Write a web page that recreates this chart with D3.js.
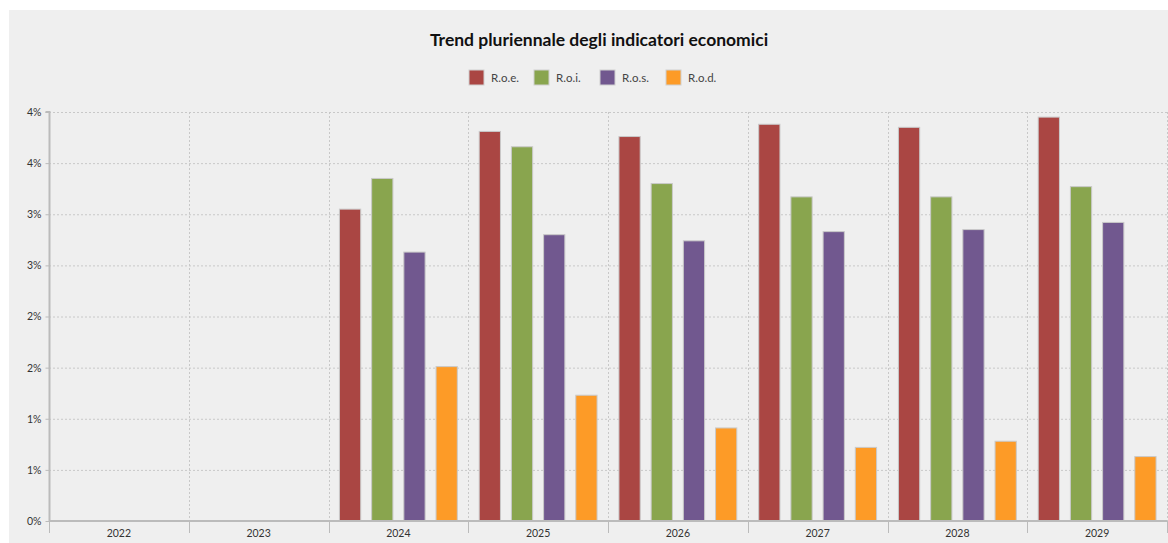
<!DOCTYPE html>
<html><head><meta charset="utf-8">
<script src="https://cdn.jsdelivr.net/npm/d3@7"></script>
<style>
html,body{margin:0;padding:0;background:#fff;}
svg{display:block;font-family:Lato,"Open Sans",sans-serif;}
</style></head>
<body>
<svg id="chart" width="1168" height="543"></svg>
<script>
const years = ["2022","2023","2024","2025","2026","2027","2028","2029"];
const seriesNames = ["R.o.e.","R.o.i.","R.o.s.","R.o.d."];
const roe = [null,null,3.05,3.81,3.76,3.88,3.85,3.95];
const roi = [null,null,3.35,3.66,3.30,3.17,3.17,3.27];
const ros = [null,null,2.63,2.80,2.74,2.83,2.85,2.92];
const rod = [null,null,1.51,1.23,0.91,0.72,0.78,0.63];
const yTicks = [0,0.5,1,1.5,2,2.5,3,3.5,4];
const colors = ["#aa4643","#89a54e","#71588f","#fd9b27"];
const seriesValues = [roe,roi,ros,rod];

const svg = d3.select("#chart");
svg.append("rect").attr("x",9).attr("y",10).attr("width",1159).attr("height",533).attr("fill","#efefef");

const m = {left:49,right:1167,top:112,bottom:521};
const x = d3.scaleBand().domain(years).range([m.left,m.right]).paddingInner(0).paddingOuter(0);
const xs = d3.scaleBand().domain(seriesNames).range([0,x.bandwidth()]).paddingInner(0.34).paddingOuter(0.34);
const y = d3.scaleLinear().domain([0,4]).range([m.bottom,m.top]);

// horizontal grid
svg.append("g").selectAll("line").data(yTicks.filter(d=>d>0)).join("line")
  .attr("x1",m.left).attr("x2",m.right).attr("y1",d=>y(d)+0.5).attr("y2",d=>y(d)+0.5)
  .attr("stroke","#c8c8c8").attr("stroke-dasharray","2,2");
// vertical grid
svg.append("g").selectAll("line").data(years.slice(1).concat(["end"])).join("line")
  .attr("x1",(d,i)=>Math.round(m.left + (i+1)*x.step())+0.5)
  .attr("x2",(d,i)=>Math.round(m.left + (i+1)*x.step())+0.5)
  .attr("y1",m.top).attr("y2",m.bottom)
  .attr("stroke","#c8c8c8").attr("stroke-dasharray","2,2");

// bars
seriesNames.forEach((s,si)=>{
  svg.append("g").selectAll("rect").data(years.map((yr,i)=>({yr,v:seriesValues[si][i]})).filter(d=>d.v!=null)).join("rect")
    .attr("x",d=>x(d.yr)+xs(s))
    .attr("width",xs.bandwidth())
    .attr("y",d=>y(d.v))
    .attr("height",d=>y(0)-y(d.v))
    .attr("fill",colors[si]).attr("stroke","#c9c9c9").attr("stroke-width",1);
});

// y axis
const yAxis = d3.axisLeft(y).tickValues(yTicks).tickFormat(d=>Math.round(d)+"%").tickSize(4).tickPadding(4);
const ga = svg.append("g").attr("transform",`translate(${m.left+0.5},0)`).call(yAxis);
ga.attr("font-family",null);
ga.select(".domain").attr("stroke","#bbb").attr("stroke-width",2).attr("d",`M-4,${m.top}H0V${m.bottom}`);
ga.selectAll(".tick line").attr("stroke","#bbb");
ga.selectAll("text").attr("fill","#333").attr("font-size",10.5);

// x axis
const xAxis = d3.axisBottom(x).tickSize(0).tickPadding(9);
const gx = svg.append("g").attr("transform",`translate(0,${m.bottom})`).call(xAxis);
gx.attr("font-family",null);
gx.select(".domain").attr("stroke","#bbb").attr("stroke-width",2).attr("d",`M${m.left},0H${m.right}`);
gx.selectAll("text").attr("fill","#333").attr("font-size",10.5);
gx.append("g").selectAll("line").data(d3.range(years.length+1)).join("line")
  .attr("x1",i=>Math.round(m.left+i*x.step())+0.5).attr("x2",i=>Math.round(m.left+i*x.step())+0.5)
  .attr("y1",0).attr("y2",12).attr("stroke","#bbb");

// title
svg.append("text").attr("x",599).attr("y",46).attr("text-anchor","middle")
  .attr("font-size",17.5).attr("font-weight","bold").attr("fill","#111")
  .text("Trend pluriennale degli indicatori economici");

// legend
const legX = [469,534,600,666];
const lg = svg.append("g");
seriesNames.forEach((s,i)=>{
  lg.append("rect").attr("x",legX[i]).attr("y",70).attr("width",15).attr("height",15)
    .attr("fill",colors[i]).attr("stroke","#d0d0d0");
  lg.append("text").attr("x",legX[i]+22).attr("y",82).attr("font-size",11.5).attr("fill","#444").text(s);
});
</script>
</body></html>
